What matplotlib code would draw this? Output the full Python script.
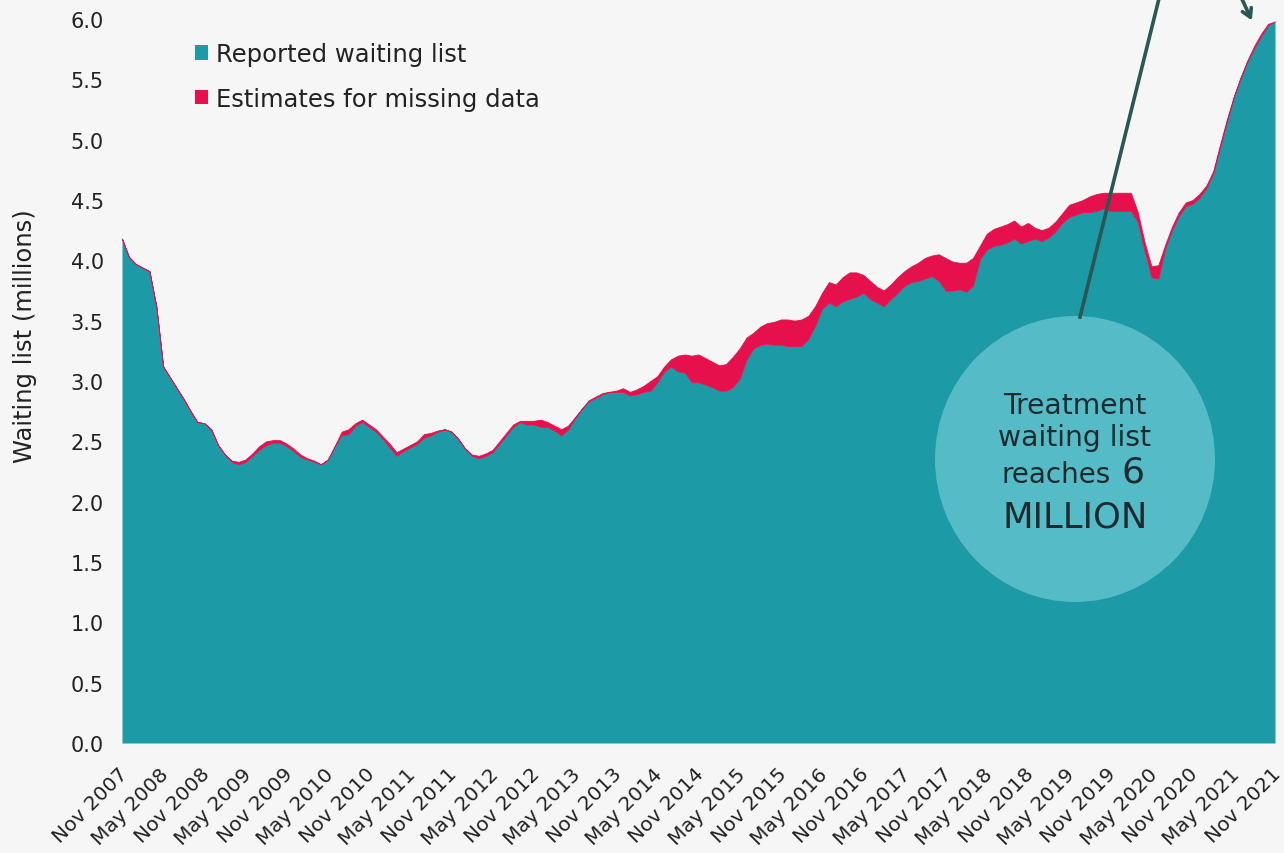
import numpy as np
import matplotlib
matplotlib.use("Agg")
import matplotlib.pyplot as plt
import matplotlib.transforms as mtrans
from matplotlib.patches import Patch, Ellipse
from matplotlib.lines import Line2D

# ---------------- data (millions), monthly Nov 2007 .. Nov 2021 ----------------
reported = [
    4.18, 4.03, 3.97, 3.94, 3.91, 3.62, 3.12, 3.03, 2.94, 2.85,
    2.75, 2.66, 2.65, 2.60, 2.47, 2.39, 2.33, 2.31, 2.33, 2.38,
    2.43, 2.47, 2.49, 2.49, 2.46, 2.42, 2.37, 2.35, 2.33, 2.31,
    2.35, 2.46, 2.55, 2.56, 2.63, 2.66, 2.62, 2.58, 2.52, 2.45,
    2.38, 2.42, 2.45, 2.48, 2.53, 2.55, 2.58, 2.60, 2.58, 2.52,
    2.44, 2.38, 2.36, 2.38, 2.41, 2.48, 2.55, 2.62, 2.66, 2.64,
    2.64, 2.62, 2.62, 2.59, 2.55, 2.60, 2.69, 2.77, 2.83, 2.86,
    2.89, 2.91, 2.91, 2.91, 2.88, 2.89, 2.91, 2.92, 2.99, 3.08,
    3.12, 3.08, 3.07, 2.99, 2.99, 2.97, 2.95, 2.92, 2.92, 2.95,
    3.02, 3.18, 3.27, 3.30, 3.31, 3.30, 3.30, 3.29, 3.29, 3.29,
    3.35, 3.46, 3.60, 3.65, 3.62, 3.66, 3.68, 3.70, 3.73, 3.68,
    3.65, 3.62, 3.68, 3.73, 3.79, 3.82, 3.83, 3.85, 3.87, 3.83,
    3.75, 3.75, 3.76, 3.74, 3.79, 4.01, 4.09, 4.12, 4.13, 4.15,
    4.18, 4.14, 4.16, 4.18, 4.16, 4.19, 4.24, 4.31, 4.36, 4.38,
    4.40, 4.40, 4.41, 4.43, 4.41, 4.41, 4.41, 4.41, 4.32, 4.08,
    3.86, 3.85, 4.10, 4.25, 4.37, 4.45, 4.47, 4.52, 4.60, 4.72,
    4.94, 5.15, 5.35, 5.51, 5.65, 5.76, 5.86, 5.95, 5.98,
]
with_estimates = [
    4.18, 4.03, 3.97, 3.94, 3.91, 3.62, 3.12, 3.03, 2.94, 2.85,
    2.75, 2.66, 2.65, 2.60, 2.47, 2.39, 2.34, 2.33, 2.35, 2.40,
    2.46, 2.50, 2.51, 2.51, 2.48, 2.44, 2.39, 2.36, 2.34, 2.31,
    2.35, 2.46, 2.58, 2.60, 2.65, 2.68, 2.64, 2.60, 2.54, 2.48,
    2.41, 2.44, 2.47, 2.50, 2.56, 2.57, 2.59, 2.60, 2.58, 2.52,
    2.44, 2.39, 2.38, 2.40, 2.43, 2.50, 2.57, 2.64, 2.67, 2.67,
    2.67, 2.68, 2.66, 2.63, 2.60, 2.63, 2.70, 2.77, 2.84, 2.87,
    2.90, 2.91, 2.92, 2.94, 2.91, 2.93, 2.96, 3.00, 3.04, 3.12,
    3.18, 3.21, 3.22, 3.21, 3.22, 3.19, 3.16, 3.13, 3.14, 3.20,
    3.27, 3.36, 3.40, 3.45, 3.48, 3.49, 3.51, 3.51, 3.50, 3.51,
    3.54, 3.62, 3.73, 3.82, 3.80, 3.86, 3.90, 3.90, 3.88, 3.83,
    3.78, 3.75, 3.80, 3.86, 3.91, 3.95, 3.98, 4.02, 4.04, 4.05,
    4.02, 3.99, 3.98, 3.98, 4.02, 4.12, 4.22, 4.26, 4.28, 4.30,
    4.33, 4.28, 4.31, 4.27, 4.25, 4.27, 4.32, 4.39, 4.46, 4.48,
    4.50, 4.53, 4.55, 4.56, 4.56, 4.56, 4.56, 4.56, 4.40, 4.15,
    3.95, 3.96, 4.13, 4.28, 4.40, 4.48, 4.50, 4.55, 4.62, 4.74,
    4.96, 5.17, 5.36, 5.52, 5.66, 5.78, 5.88, 5.96, 5.98,
]
tick_labels = [
    "Nov 2007", "May 2008", "Nov 2008", "May 2009", "Nov 2009", "May 2010",
    "Nov 2010", "May 2011", "Nov 2011", "May 2012", "Nov 2012", "May 2013",
    "Nov 2013", "May 2014", "Nov 2014", "May 2015", "Nov 2015", "May 2016",
    "Nov 2016", "May 2017", "Nov 2017", "May 2018", "Nov 2018", "May 2019",
    "Nov 2019", "May 2020", "Nov 2020", "May 2021", "Nov 2021",
]
series_names = ["Reported waiting list", "Estimates for missing data"]

# ---------------- styling ----------------
BG = "#f6f6f6"
TEAL = "#1c9aa6"
RED = "#e5104c"
CIRCLE = "#55bcc7"
DARK = "#2b5752"
TXT = "#222222"

plt.rcParams["font.family"] = ["DejaVu Sans"]

W, H = 1284, 854
fig = plt.figure(figsize=(W / 100, H / 100), dpi=100, facecolor=BG)
ax = fig.add_axes([122 / W, 1 - 744 / H, (1275 - 122) / W, (744 - 20) / H])
ax.set_facecolor(BG)

x = np.arange(len(reported))
rep = np.array(reported)
tot = np.array(with_estimates)

ax.fill_between(x, 0, rep, color=TEAL, linewidth=0, zorder=2)
ax.fill_between(x, rep, tot, where=tot >= rep, color=RED, linewidth=0.6,
                edgecolor=RED, zorder=2, interpolate=True)

ax.set_xlim(0, len(reported) - 1)
ax.set_ylim(0, 6.0)
yt = np.arange(0, 6.01, 0.5)
ax.set_yticks(yt)
ax.set_yticklabels([f"{v:.1f}" for v in yt])
ax.set_xticks(np.arange(0, len(reported), 6))
ax.set_xticklabels(tick_labels, rotation=45, ha="right",
                   rotation_mode="anchor")
for s in ax.spines.values():
    s.set_visible(False)
ax.tick_params(axis="both", length=0, labelsize=15, colors=TXT)
ax.tick_params(axis="y", pad=13)
ax.tick_params(axis="x", labelsize=14.5, pad=15)
offset = mtrans.ScaledTranslation(-4 / 100, 0, fig.dpi_scale_trans)
for lab in ax.get_xticklabels():
    lab.set_transform(lab.get_transform() + offset)

ax.set_ylabel("Waiting list (millions)", fontsize=17.5, color=TXT)
ax.yaxis.set_label_coords((37 - 122) / 1153, (744 - 336) / 724)

handles = [Patch(facecolor=TEAL, edgecolor="none"),
           Patch(facecolor=RED, edgecolor="none")]
fig.legend(handles, series_names, loc="upper left",
           bbox_to_anchor=(173 / W, 1 - 21 / H), frameon=False,
           fontsize=17.5, handlelength=0.55, handleheight=0.55,
           handletextpad=0.3, labelspacing=0.85, labelcolor=TXT)

# ---------------- annotation ----------------
ell = Ellipse((1075 / W, 1 - 460 / H), 280 / W, 286 / H,
              transform=fig.transFigure, facecolor=CIRCLE, edgecolor="none",
              zorder=5, clip_on=False)
ax.add_patch(ell)
ax.add_line(Line2D([1080 / W, 1161 / W], [1 - 318 / H, 1.01],
                   transform=fig.transFigure, color=DARK, lw=2.6,
                   zorder=6, clip_on=False))
ax.annotate("", xy=(1253 / W, 1 - 24 / H), xycoords=fig.transFigure,
            xytext=(1238 / W, 1.01), textcoords=fig.transFigure,
            arrowprops=dict(arrowstyle="->,head_length=0.6,head_width=0.35",
                            color=DARK, lw=2.6), zorder=6)

tc = "#1d2b30"
fig.text(1075 / W, 1 - 414 / H, "Treatment", ha="center", va="baseline",
         fontsize=20.3, color=tc, zorder=7)
fig.text(1075 / W, 1 - 446 / H, "waiting list", ha="center", va="baseline",
         fontsize=20.3, color=tc, zorder=7)
fig.text(1111 / W, 1 - 483 / H, "reaches", ha="right", va="baseline",
         fontsize=20, color=tc, zorder=7)
fig.text(1121 / W, 1 - 483 / H, "6", ha="left", va="baseline",
         fontsize=26, color=tc, zorder=7)
fig.text(1075 / W, 1 - 528 / H, "MILLION", ha="center", va="baseline",
         fontsize=25.5, color=tc, zorder=7)

fig.savefig("out.png", dpi=100, facecolor=BG)
